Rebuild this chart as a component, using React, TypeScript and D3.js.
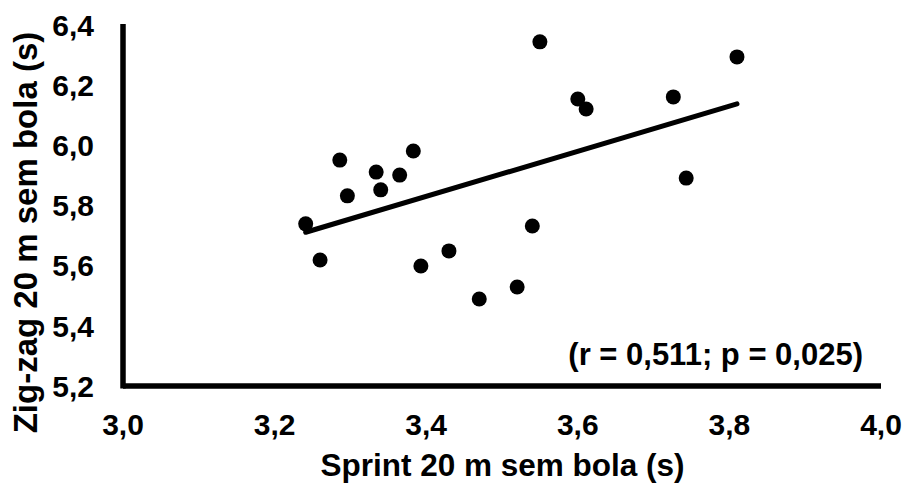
import React from "react";
import * as d3 from "d3";

const sprint = [3.241, 3.26, 3.286, 3.296, 3.334, 3.34, 3.365, 3.383, 3.393, 3.43, 3.47, 3.52, 3.54, 3.55, 3.6, 3.611, 3.726, 3.743, 3.81];
const zigzag = [5.739, 5.619, 5.951, 5.832, 5.911, 5.852, 5.901, 5.981, 5.599, 5.649, 5.489, 5.529, 5.732, 6.344, 6.154, 6.121, 6.161, 5.891, 6.294];
const xTicks = [3.0, 3.2, 3.4, 3.6, 3.8, 4.0];
const yTicks = [5.2, 5.4, 5.6, 5.8, 6.0, 6.2, 6.4];
const xTitle = "Sprint 20 m sem bola (s)";
const yTitle = "Zig-zag 20 m sem bola (s)";
const annotation = "(r = 0,511; p = 0,025)";

const W = 904;
const H = 483;
const FONT = "'Liberation Sans', Arial, Helvetica, sans-serif";

export default function App() {
  const x = d3.scaleLinear().domain([3.0, 4.0]).range([123, 881]);
  const y = d3.scaleLinear().domain([5.2, 6.4]).range([386, 25]);
  const fmt = (v: number) => d3.format(".1f")(v).replace(".", ",");

  const mx = d3.mean(sprint) as number;
  const my = d3.mean(zigzag) as number;
  let sxy = 0;
  let sxx = 0;
  sprint.forEach((v, i) => {
    sxy += (v - mx) * (zigzag[i] - my);
    sxx += (v - mx) * (v - mx);
  });
  const slope = sxy / sxx;
  const icpt = my - slope * mx;
  const [x0, x1] = d3.extent(sprint) as [number, number];
  const trend: [number, number][] = [
    [x0, icpt + slope * x0],
    [x1, icpt + slope * x1],
  ];
  const line = d3
    .line<[number, number]>()
    .x((d) => x(d[0]))
    .y((d) => y(d[1]));

  return (
    <svg
      width={W}
      height={H}
      viewBox={`0 0 ${W} ${H}`}
      style={{ position: "absolute", left: 0, top: 0, background: "#fff" }}
      fontFamily={FONT}
      fontWeight="bold"
    >
      <rect x={0} y={0} width={W} height={H} fill="#fff" />
      {/* axes */}
      <line x1={x(3.0)} x2={x(3.0)} y1={y(6.4) - 1} y2={y(5.2) + 2.5} stroke="#000" strokeWidth={5.5} />
      <line x1={x(3.0)} x2={x(4.0)} y1={y(5.2)} y2={y(5.2)} stroke="#000" strokeWidth={5.5} />
      {/* tick labels */}
      {yTicks.map((t) => (
        <text key={"y" + t} x={94} y={y(t) + 10.7} textAnchor="end" fontSize={30} fill="#000">
          {fmt(t)}
        </text>
      ))}
      {xTicks.map((t) => (
        <text key={"x" + t} x={x(t)} y={435} textAnchor="middle" fontSize={30} fill="#000">
          {fmt(t)}
        </text>
      ))}
      {/* trend line */}
      <path d={line(trend) || ""} stroke="#000" strokeWidth={5} fill="none" strokeLinecap="round" />
      {/* points */}
      {sprint.map((v, i) => (
        <circle key={i} cx={x(v)} cy={y(zigzag[i])} r={7.5} fill="#000" />
      ))}
      {/* annotation */}
      <text x={863} y={365} textAnchor="end" fontSize={31} fill="#000">
        {annotation}
      </text>
      {/* axis titles */}
      <text x={(318 + 687) / 2} y={476} textAnchor="middle" fontSize={31.5} fill="#000">
        {xTitle}
      </text>
      <text
        transform={`translate(37, 232.5) rotate(-90)`}
        textAnchor="middle"
        fontSize={33}
        fill="#000"
      >
        {yTitle}
      </text>
    </svg>
  );
}
